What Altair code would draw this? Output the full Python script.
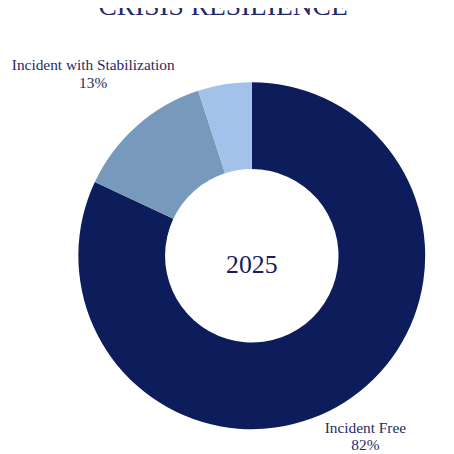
import altair as alt
import pandas as pd

categories = ["Incident Free", "Incident with Stabilization", "Other"]
values = [82, 13, 5]
order_idx = [0, 1, 2]
colors = ["#0d1c5b", "#7799bb", "#a3c2ea"]
center_label = "2025"
title_text = "CRISIS RESILIENCE"

df = pd.DataFrame({"cat": categories, "value": values, "idx": order_idx})

FONT = "Liberation Serif"
TXT = "#1f2a66"

arcs = alt.Chart(df).mark_arc(radius=175, radius2=87.5).encode(
    theta=alt.Theta("value:Q", stack=True),
    order=alt.Order("idx:Q"),
    color=alt.Color("cat:N", scale=alt.Scale(domain=categories, range=colors), legend=None),
)

stacked = alt.Chart(df).transform_window(
    cum="sum(value)", sort=[alt.SortField("idx", order="ascending")]
).transform_calculate(
    mid="datum.cum - datum.value / 2",
    lab="datum.cat + '\\n' + datum.value + '%'",
)


def label_layer(cat, radius, dy, lh):
    return stacked.transform_filter(alt.datum.cat == cat).mark_text(
        radius=radius, dy=dy, font=FONT, fontSize=15.5, lineHeight=lh, color=TXT,
        align="center", baseline="middle", lineBreak="\n"
    ).encode(theta=alt.Theta("mid:Q", stack=None), text="lab:N")


lab_free = label_layer("Incident Free", 214, -7, 17)
lab_stab = label_layer("Incident with Stabilization", 242, -11, 18)

center = alt.Chart(pd.DataFrame({"year": [center_label]})).mark_text(
    font=FONT, fontSize=26, color="#14205e", baseline="alphabetic", dy=17
).encode(text="year:N")

chart = alt.layer(arcs, lab_free, lab_stab, center).properties(
    width=392,
    height=392,
    autosize=alt.AutoSizeParams(type="none"),
    padding={"left": 50, "top": 52, "right": 0, "bottom": 0},
    title=alt.TitleParams(
        title_text, font=FONT, fontSize=27.7, fontWeight="normal", color="#1f2a6b",
        anchor="middle", dx=-29, offset=16, baseline="alphabetic"
    ),
).configure_view(stroke=None)

chart.save("out.html", embed_options={"renderer": "svg", "actions": False})
